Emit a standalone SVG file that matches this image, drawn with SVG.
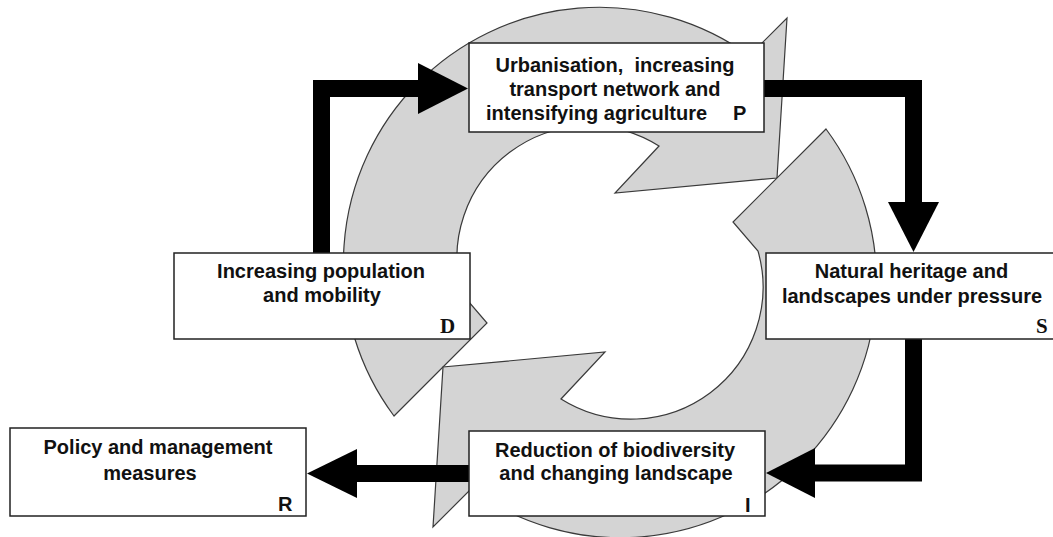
<svg xmlns="http://www.w3.org/2000/svg" xmlns:xlink="http://www.w3.org/1999/xlink" width="1053" height="537" viewBox="0 0 1053 537">
<defs>
<style>
.ring{fill:#d4d4d4;stroke:#3a3a3a;stroke-width:1.2;stroke-linejoin:miter}
.box{fill:#fff;stroke:#222;stroke-width:1.5}
.t{font-family:"Liberation Sans",Arial,sans-serif;font-weight:bold;font-size:20px;fill:#111;text-anchor:middle}
.k{font-family:"Liberation Sans",Arial,sans-serif;font-weight:bold;font-size:20px;fill:#111}
.ks{font-family:"Liberation Serif","Times New Roman",serif;font-weight:bold;font-size:21px;fill:#111}
.bar{fill:none;stroke:#000;stroke-width:17;stroke-linejoin:miter;stroke-linecap:butt}
.head{fill:#000}
</style>
<path id="cycleArrow" class="ring" d="M394,416 A256,256 0 0 1 749.3,55.7 L787,18 L777,178 L615,193 L659,146 A132,132 0 0 0 462,294 L487,323 Z"/>
</defs>
<rect x="0" y="0" width="1053" height="537" fill="#fff"/>
<g id="cycle">
<use id="cycle-top" xlink:href="#cycleArrow" href="#cycleArrow"/>
<use id="cycle-bottom" xlink:href="#cycleArrow" href="#cycleArrow" transform="rotate(180 610 272.5)"/>
</g>
<g id="connectors">
<path class="bar" d="M321.5,253 V88.5 H420"/>
<polygon class="head" points="418,63 468,88.5 418,114"/>
<path class="bar" d="M764,88.5 H913.5 V204"/>
<polygon class="head" points="888,202 939,202 913.5,252"/>
<path class="bar" d="M913.5,339 V473 H813"/>
<polygon class="head" points="815,448 815,498 766,473"/>
<path class="bar" d="M469,473.5 H355"/>
<polygon class="head" points="357,449 357,498 307,473.5"/>
</g>
<g id="node-P">
<rect class="box" x="469" y="43" width="295" height="89"/>
<text class="t" x="615" y="72" xml:space="preserve">Urbanisation,  increasing</text>
<text class="t" x="615" y="96">transport network and</text>
<text class="k" x="486" y="120">intensifying agriculture</text>
<text class="k" x="733" y="120">P</text>
</g>
<g id="node-D">
<rect class="box" x="174" y="253" width="296" height="86"/>
<text class="t" x="321" y="278">Increasing population</text>
<text class="t" x="322" y="302">and mobility</text>
<text class="ks" x="440" y="333">D</text>
</g>
<g id="node-S">
<rect class="box" x="766" y="253" width="300" height="86"/>
<text class="t" x="911.5" y="278">Natural heritage and</text>
<text class="t" x="912" y="303">landscapes under pressure</text>
<text class="ks" x="1036" y="333">S</text>
</g>
<g id="node-I">
<rect class="box" x="469" y="431" width="296" height="85"/>
<text class="t" x="615" y="457">Reduction of biodiversity</text>
<text class="t" x="616" y="480">and changing landscape</text>
<text class="k" x="745" y="512">I</text>
</g>
<g id="node-R">
<rect class="box" x="10" y="428" width="296" height="88"/>
<text class="t" x="158" y="454">Policy and management</text>
<text class="t" x="150" y="480">measures</text>
<text class="k" x="278" y="511">R</text>
</g>
</svg>
